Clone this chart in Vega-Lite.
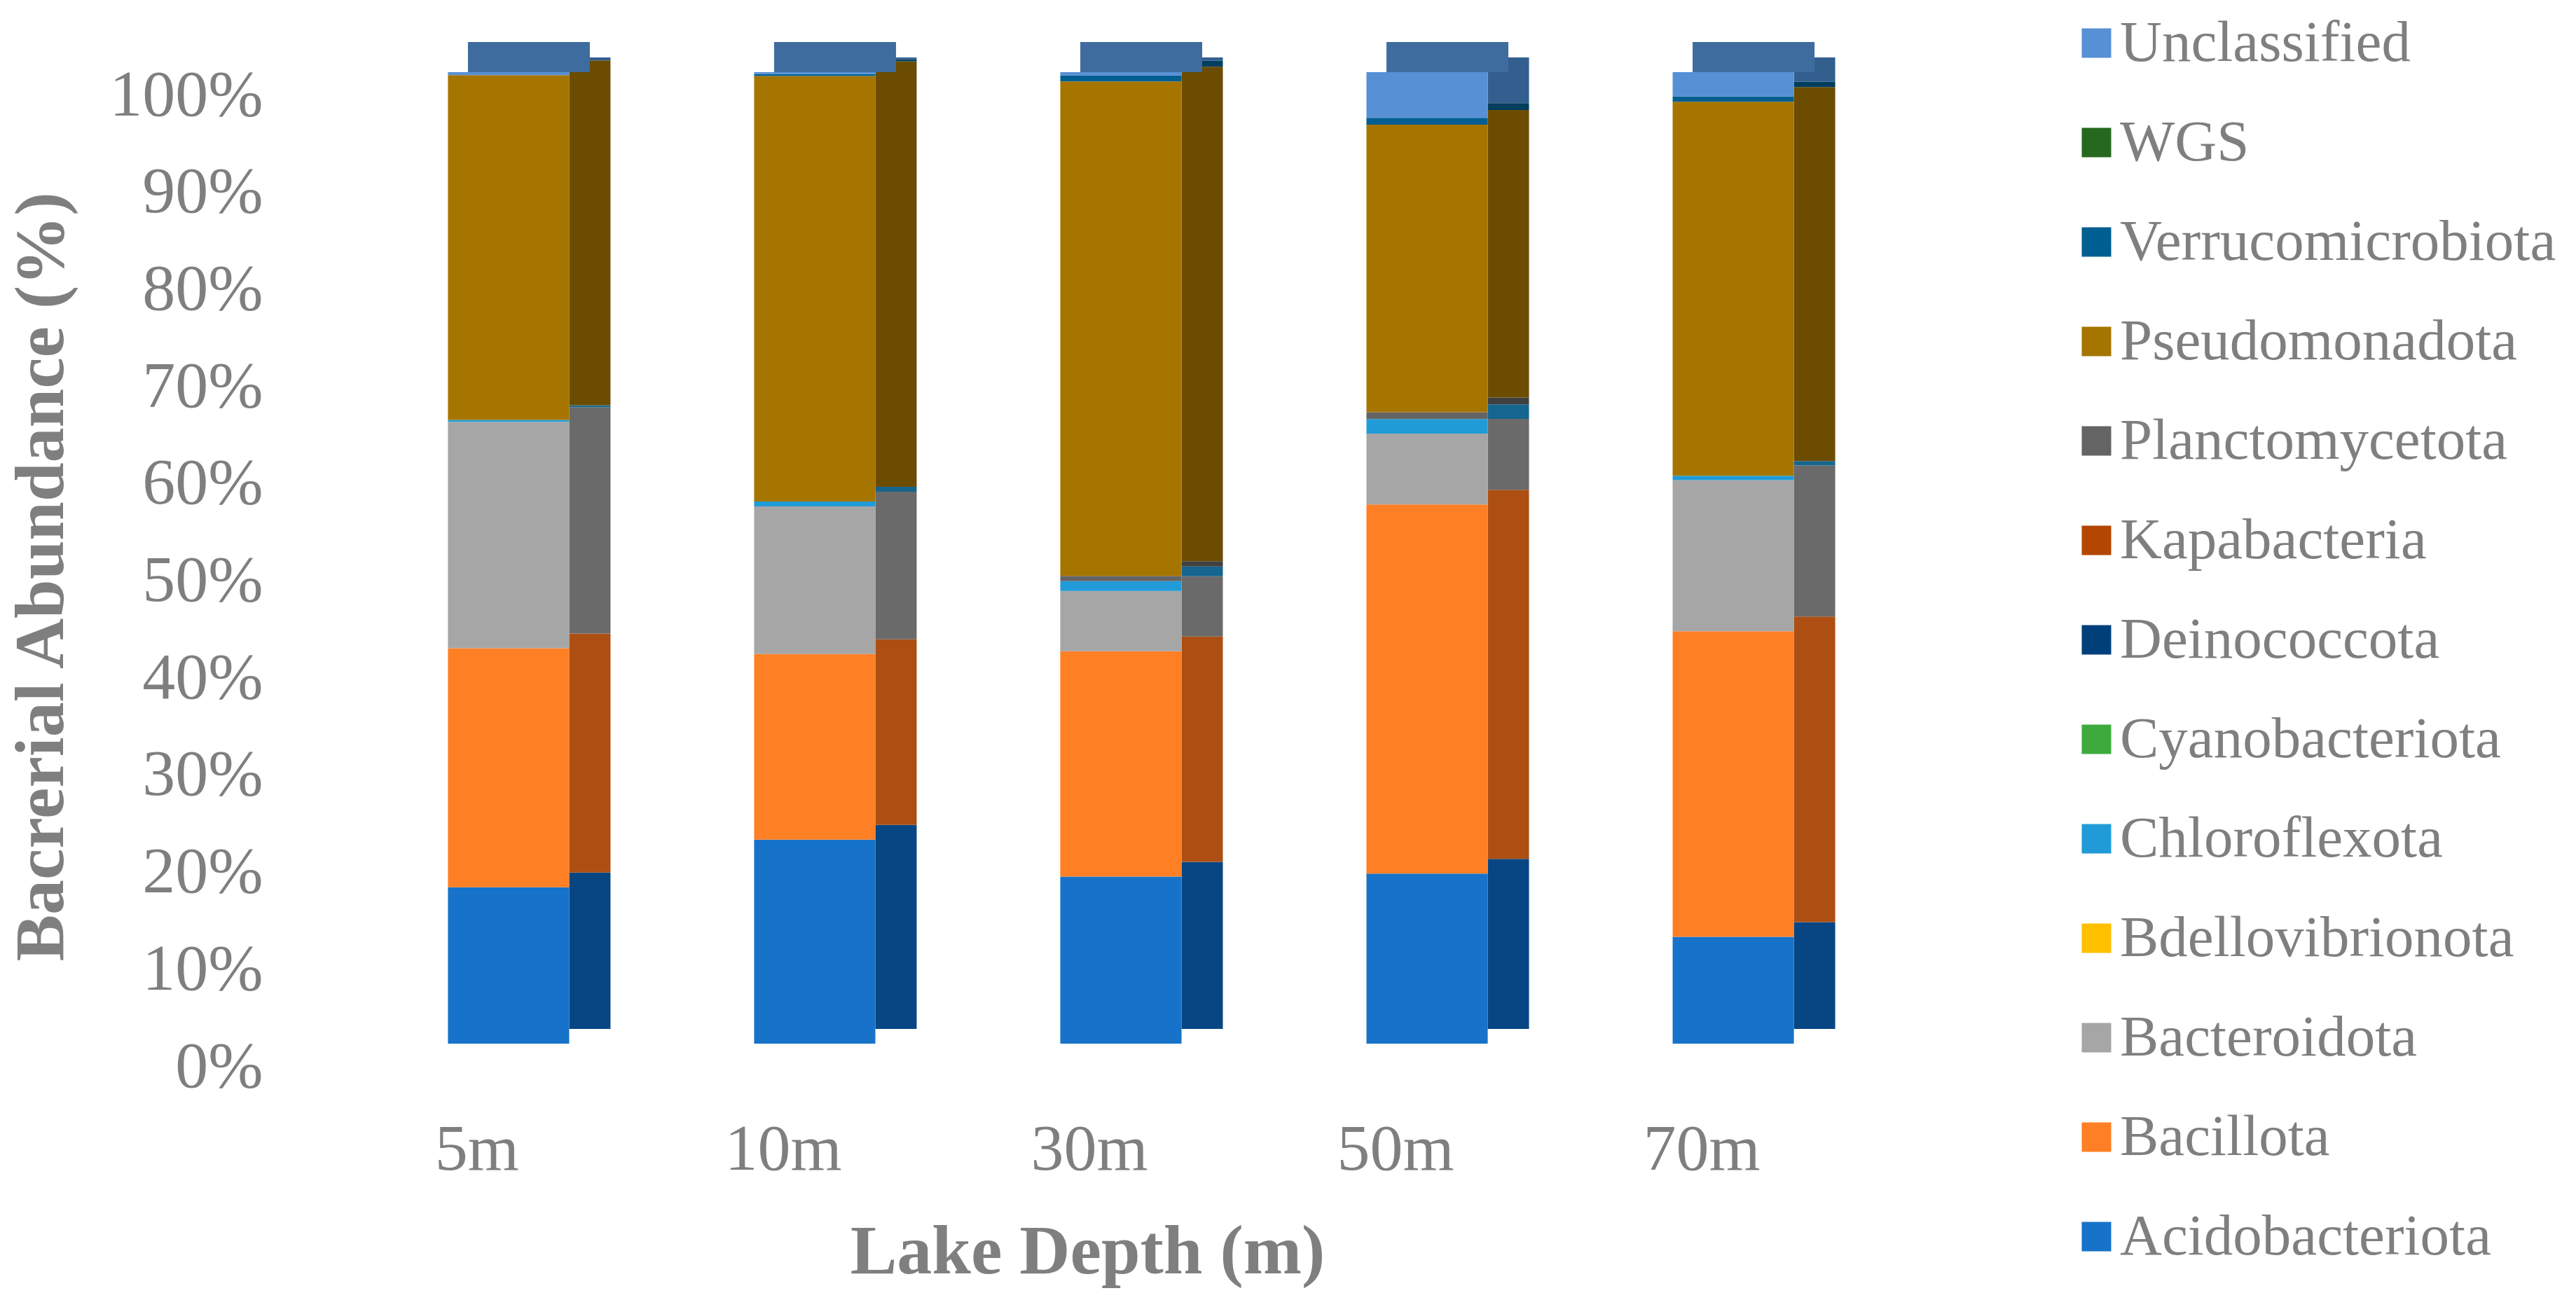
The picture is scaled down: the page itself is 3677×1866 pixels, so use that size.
{
  "$schema": "https://vega.github.io/schema/vega-lite/v6.json",
  "autosize": {"type": "none"},
  "width": 2360,
  "height": 1387,
  "padding": {"left": 420, "top": 103, "right": 897, "bottom": 376},
  "background": "white",
  "config": {
    "view": {"stroke": null},
    "font": "Liberation Serif"
  },
  "data": {
    "values": [
      {"depth": "5m", "phylum": "Acidobacteriota", "abundance": 16.1},
      {"depth": "5m", "phylum": "Bacillota", "abundance": 24.6},
      {"depth": "5m", "phylum": "Bacteroidota", "abundance": 23.3},
      {"depth": "5m", "phylum": "Chloroflexota", "abundance": 0.2},
      {"depth": "5m", "phylum": "Pseudomonadota", "abundance": 35.5},
      {"depth": "5m", "phylum": "Unclassified", "abundance": 0.3},

      {"depth": "10m", "phylum": "Acidobacteriota", "abundance": 21.0},
      {"depth": "10m", "phylum": "Bacillota", "abundance": 19.1},
      {"depth": "10m", "phylum": "Bacteroidota", "abundance": 15.2},
      {"depth": "10m", "phylum": "Chloroflexota", "abundance": 0.5},
      {"depth": "10m", "phylum": "Pseudomonadota", "abundance": 43.8},
      {"depth": "10m", "phylum": "Verrucomicrobiota", "abundance": 0.2},
      {"depth": "10m", "phylum": "Unclassified", "abundance": 0.2},

      {"depth": "30m", "phylum": "Acidobacteriota", "abundance": 17.2},
      {"depth": "30m", "phylum": "Bacillota", "abundance": 23.2},
      {"depth": "30m", "phylum": "Bacteroidota", "abundance": 6.2},
      {"depth": "30m", "phylum": "Chloroflexota", "abundance": 1.0},
      {"depth": "30m", "phylum": "Planctomycetota", "abundance": 0.55},
      {"depth": "30m", "phylum": "Pseudomonadota", "abundance": 50.9},
      {"depth": "30m", "phylum": "Verrucomicrobiota", "abundance": 0.6},
      {"depth": "30m", "phylum": "Unclassified", "abundance": 0.35},

      {"depth": "50m", "phylum": "Acidobacteriota", "abundance": 17.5},
      {"depth": "50m", "phylum": "Bacillota", "abundance": 38.0},
      {"depth": "50m", "phylum": "Bacteroidota", "abundance": 7.3},
      {"depth": "50m", "phylum": "Chloroflexota", "abundance": 1.5},
      {"depth": "50m", "phylum": "Planctomycetota", "abundance": 0.7},
      {"depth": "50m", "phylum": "Pseudomonadota", "abundance": 29.6},
      {"depth": "50m", "phylum": "Verrucomicrobiota", "abundance": 0.7},
      {"depth": "50m", "phylum": "Unclassified", "abundance": 4.7},

      {"depth": "70m", "phylum": "Acidobacteriota", "abundance": 11.0},
      {"depth": "70m", "phylum": "Bacillota", "abundance": 31.45},
      {"depth": "70m", "phylum": "Bacteroidota", "abundance": 15.55},
      {"depth": "70m", "phylum": "Chloroflexota", "abundance": 0.45},
      {"depth": "70m", "phylum": "Pseudomonadota", "abundance": 38.5},
      {"depth": "70m", "phylum": "Verrucomicrobiota", "abundance": 0.55},
      {"depth": "70m", "phylum": "Unclassified", "abundance": 2.5}
    ]
  },
  "transform": [
    {
      "calculate": "indexof(['Acidobacteriota', 'Bacillota', 'Bacteroidota', 'Bdellovibrionota', 'Chloroflexota', 'Cyanobacteriota', 'Deinococcota', 'Kapabacteria', 'Planctomycetota', 'Pseudomonadota', 'Verrucomicrobiota', 'WGS', 'Unclassified'], datum.phylum)",
      "as": "stackRank"
    }
  ],
  "encoding": {
    "x": {
      "field": "depth",
      "type": "nominal",
      "sort": ["5m", "10m", "30m", "50m", "70m"],
      "scale": {"paddingInner": 0.604, "paddingOuter": 0.502},
      "axis": {
        "title": "Lake Depth (m)",
        "domain": false,
        "ticks": false,
        "grid": false,
        "labelAngle": 0,
        "labelFontSize": 94,
        "labelColor": "#7F7F7F",
        "labelBaseline": "middle",
        "labelPadding": 151,
        "labelOffset": -45,
        "titleFontSize": 100,
        "titleFontWeight": "bold",
        "titleColor": "#7F7F7F",
        "titleX": 1132,
        "titleY": 297,
        "titleBaseline": "middle"
      }
    }
  },
  "layer": [
    {
      "mark": {"type": "bar", "width": 59, "xOffset": 116, "yOffset": -21},
      "encoding": {
        "y": {
          "field": "abundance",
          "type": "quantitative",
          "stack": "zero",
          "title": "Bacrerial Abundance (%)"
        },
        "color": {
          "field": "phylum",
          "type": "nominal",
          "scale": {
            "domain": ["Unclassified", "WGS", "Verrucomicrobiota", "Pseudomonadota", "Planctomycetota", "Kapabacteria", "Deinococcota", "Cyanobacteriota", "Chloroflexota", "Bdellovibrionota", "Bacteroidota", "Bacillota", "Acidobacteriota"],
            "range": ["#335F8F", "#174512", "#003E5E", "#6B4C00", "#404040", "#752E00", "#002A50", "#287028", "#15668F", "#A67D00", "#6A6A6A", "#AD4F13", "#074683"]
          },
          "legend": null
        },
        "order": {"field": "stackRank", "type": "quantitative"}
      }
    },
    {
      "mark": {"type": "bar"},
      "encoding": {
        "y": {
          "field": "abundance",
          "type": "quantitative",
          "stack": "zero",
          "scale": {"domain": [0, 100], "nice": false},
          "axis": {
            "title": "Bacrerial Abundance (%)",
            "values": [0, 10, 20, 30, 40, 50, 60, 70, 80, 90, 100],
            "labelExpr": "datum.value + '%'",
            "domain": false,
            "ticks": false,
            "grid": false,
            "labelFontSize": 94,
            "labelColor": "#7F7F7F",
            "labelPadding": 45,
            "labelOffset": 33,
            "labelLimit": 0,
            "titleFontSize": 100,
            "titleFontWeight": "bold",
            "titleColor": "#7F7F7F",
            "titleAngle": 270,
            "titleX": -361,
            "titleY": 720,
            "titleBaseline": "middle"
          }
        },
        "color": {
          "field": "phylum",
          "type": "nominal",
          "scale": {
            "domain": ["Unclassified", "WGS", "Verrucomicrobiota", "Pseudomonadota", "Planctomycetota", "Kapabacteria", "Deinococcota", "Cyanobacteriota", "Chloroflexota", "Bdellovibrionota", "Bacteroidota", "Bacillota", "Acidobacteriota"],
            "range": ["#5690D5", "#26681F", "#005E90", "#A67500", "#646464", "#B34600", "#00407A", "#3EAA3E", "#219BD8", "#FFC000", "#A6A6A6", "#FF7F24", "#1673C9"]
          },
          "legend": {
            "title": null,
            "orient": "none",
            "legendX": 2531,
            "legendY": -83,
            "symbolType": "square",
            "symbolSize": 1764,
            "symbolStrokeWidth": 0,
            "labelFontSize": 83,
            "labelColor": "#7F7F7F",
            "labelOffset": -8,
            "labelLimit": 0,
            "rowPadding": 58
          }
        },
        "order": {"field": "stackRank", "type": "quantitative"}
      }
    },
    {
      "mark": {"type": "tick", "thickness": 43, "size": 174, "xOffset": 29, "yOffset": -21.5, "color": "#3F6C9E", "opacity": 1},
      "encoding": {
        "y": {
          "aggregate": "sum",
          "field": "abundance",
          "type": "quantitative",
          "title": "Bacrerial Abundance (%)"
        }
      }
    }
  ],
  "resolve": {"scale": {"color": "independent"}}
}
